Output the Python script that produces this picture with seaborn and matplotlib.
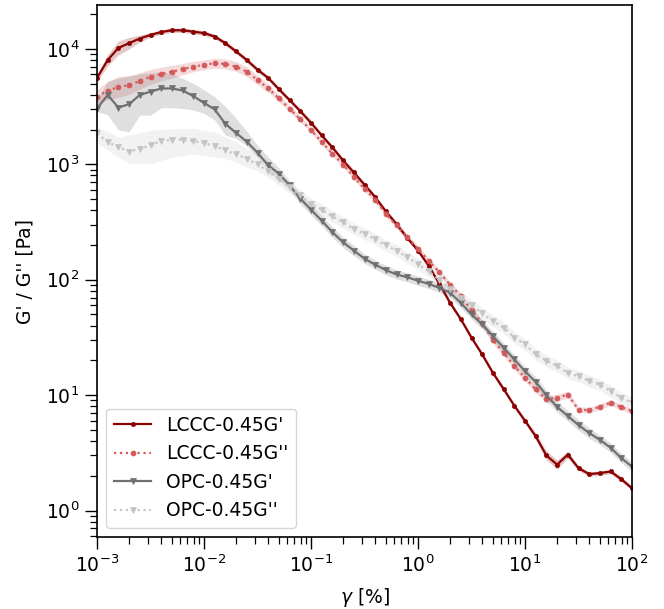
import numpy as np
import pandas as pd
import matplotlib
matplotlib.use("Agg")
import matplotlib.pyplot as plt
import seaborn as sns

# strain amplitude [%], 10 points per decade
gamma = np.logspace(-3, 2, 51)

lccc_gp = [5600, 8000, 10200, 11200, 12300, 13200, 14000, 14500, 14500, 14100,
           13700, 12800, 11200, 9500, 8000, 6600, 5600, 4470, 3600, 2890,
           2290, 1780, 1400, 1080, 850, 666, 520, 390, 303, 230,
           179, 132, 92, 63, 45.5, 31.5, 22.5, 15.6, 11.3, 8.1,
           6.0, 4.4, 3.0, 2.5, 3.05, 2.33, 2.07, 2.11, 2.18, 1.87, 1.56]
lccc_gpp = [3850, 4350, 4670, 4860, 5270, 5740, 6050, 6350, 6660, 7030,
            7270, 7520, 7410, 7030, 6350, 5370, 4560, 3720, 3030, 2450,
            1980, 1560, 1240, 995, 778, 615, 492, 372, 295, 234,
            185, 146, 116, 90.5, 72, 55, 42, 30, 23.3, 17.9,
            14.1, 11.2, 9.2, 9.5, 10.1, 7.5, 7.4, 7.95, 8.6, 7.9, 7.25]
opc_gp = [3040, 3990, 3100, 3320, 3990, 4260, 4540, 4540, 4360, 3900,
          3400, 2990, 2240, 1870, 1570, 1260, 980, 830, 656, 505,
          404, 325, 258, 211, 179, 152, 135, 121, 111, 105,
          98, 92, 85, 77, 63, 50, 41, 32.5, 25.8, 20.4,
          16.1, 13.0, 10.0, 7.9, 6.6, 5.5, 4.7, 4.1, 3.5, 2.85, 2.4]
opc_gpp = [1850, 1560, 1410, 1290, 1370, 1460, 1590, 1630, 1630, 1590,
           1530, 1435, 1320, 1220, 1120, 1000, 870, 740, 630, 537,
           455, 404, 353, 315, 276, 250, 225, 198, 179, 156,
           137, 118, 100, 83, 70, 60, 51, 44, 38.5, 31.5,
           27.5, 22.6, 19.8, 17.9, 15.6, 14.6, 13.2, 12.3, 10.8, 9.5, 8.6]

# spread of replicates (band), in decades below / above the mean
lccc_gp_lo = [.03, .05, .06, .05, .03, .02, .02, .02, .02, .02, .02, .02, .02, .02, .02, .02, .02,
              .02, .02, .02, .02, .02, .02, .02, .02, .02, .02, .02, .02, .02, .02, .02, .02, .02,
              .02, .02, .02, .02, .02, .02, .02, .03, .04, .04, .03, .02, .02, .02, .02, .02, .02]
lccc_gp_hi = lccc_gp_lo
lccc_gpp_lo = [.06, .08, .09, .08, .07, .065, .06, .055, .05, .045, .043, .043, .043, .043, .043, .04, .035,
               .03, .03, .025, .025, .025, .025, .025, .025, .025, .025, .025, .025, .025, .025, .025, .025, .025,
               .025, .025, .03, .03, .03, .03, .03, .03, .03, .03, .03, .025, .025, .025, .025, .025, .025]
lccc_gpp_hi = lccc_gpp_lo
opc_gp_lo = [.025, .174, .194, .24, .174, .204, .167, .167, .156, .12, .09, .092, .098, .047, .04, .037, .057,
             .05, .04, .045, .045, .045, .045, .045, .045, .04, .04, .04, .04, .04, .04, .04, .04, .04,
             .04, .04, .04, .04, .04, .04, .04, .045, .045, .045, .045, .045, .045, .04, .04, .04, .04]
opc_gp_hi = [.077, .116, .255, .245, .183, .164, .143, .129, .105, .11, .113, .11, .15, .127, .09, .065, .073,
             .05, .04, .045, .045, .045, .045, .045, .045, .04, .04, .04, .04, .04, .04, .04, .04, .04,
             .04, .04, .04, .04, .04, .04, .04, .045, .045, .045, .045, .045, .045, .04, .04, .04, .04]
opc_gpp_lo = [.076, .07, .087, .10, .13, .16, .168, .15, .137, .11, .107, .094, .07, .067, .073, .06, .05,
              .05, .05, .05, .05, .05, .05, .05, .05, .05, .05, .05, .05, .05, .05, .05, .05, .05,
              .05, .05, .05, .05, .05, .05, .05, .05, .05, .05, .05, .05, .05, .05, .05, .05, .05]
opc_gpp_hi = [.054, .09, .087, .145, .135, .13, .10, .095, .095, .11, .11, .125, .117, .107, .087, .093, .095,
              .05, .05, .05, .05, .05, .05, .05, .05, .05, .05, .05, .05, .05, .05, .05, .05, .05,
              .05, .05, .05, .05, .05, .05, .05, .05, .05, .05, .05, .05, .05, .05, .05, .05, .05]

labels = ["LCCC-0.45G'", "LCCC-0.45G''", "OPC-0.45G'", "OPC-0.45G''"]
series = [lccc_gp, lccc_gpp, opc_gp, opc_gpp]
bands = [(lccc_gp_lo, lccc_gp_hi), (lccc_gpp_lo, lccc_gpp_hi),
         (opc_gp_lo, opc_gp_hi), (opc_gpp_lo, opc_gpp_hi)]
colors = ["#8b0000", "#d4595b", "#707070", "#c4c4c4"]
styles = ["-", ":", "-", ":"]
markers = ["o", "o", "v", "v"]
msizes = [3.0, 3.6, 4.0, 4.4]

fig = plt.figure(figsize=(6.64, 6.09), dpi=100)
ax = fig.add_axes([97 / 664, 1 - 537 / 609, (632 - 97) / 664, (537 - 5) / 609])

handles = []
for lab, vals, (lo, hi), c, ls, mk, ms in zip(labels, series, bands, colors, styles, markers, msizes):
    v = np.asarray(vals, dtype=float)
    ax.fill_between(gamma, v / 10 ** np.asarray(lo), v * 10 ** np.asarray(hi),
                    color=c, alpha=0.22, linewidth=0)
    df = pd.DataFrame({"gamma": gamma, "G": v})
    sns.lineplot(data=df, x="gamma", y="G", ax=ax, color=c, linestyle=ls, linewidth=1.6,
                 marker=mk, markersize=ms, markeredgecolor=c, markeredgewidth=0.5,
                 label=lab, legend=False)
    handles.append(ax.lines[-1])

ax.set_xscale("log")
ax.set_yscale("log")
ax.set_xlim(1e-3, 1e2)
ax.set_ylim(0.59, 2.4e4)
ax.set_xlabel(r"$\gamma$ [%]", fontsize=13.5, labelpad=7)
ax.set_ylabel("G' / G'' [Pa]", fontsize=13.5, labelpad=8)
ax.tick_params(axis="both", which="major", labelsize=13.5, length=8.5, width=1.0, pad=4)
ax.tick_params(axis="both", which="minor", length=5, width=0.9)
for s in ax.spines.values():
    s.set_color("black")
    s.set_linewidth(1.2)

ax.legend(handles=handles, labels=labels, loc="lower left", fontsize=13.5, frameon=True)

fig.savefig("out.png", dpi=100)
